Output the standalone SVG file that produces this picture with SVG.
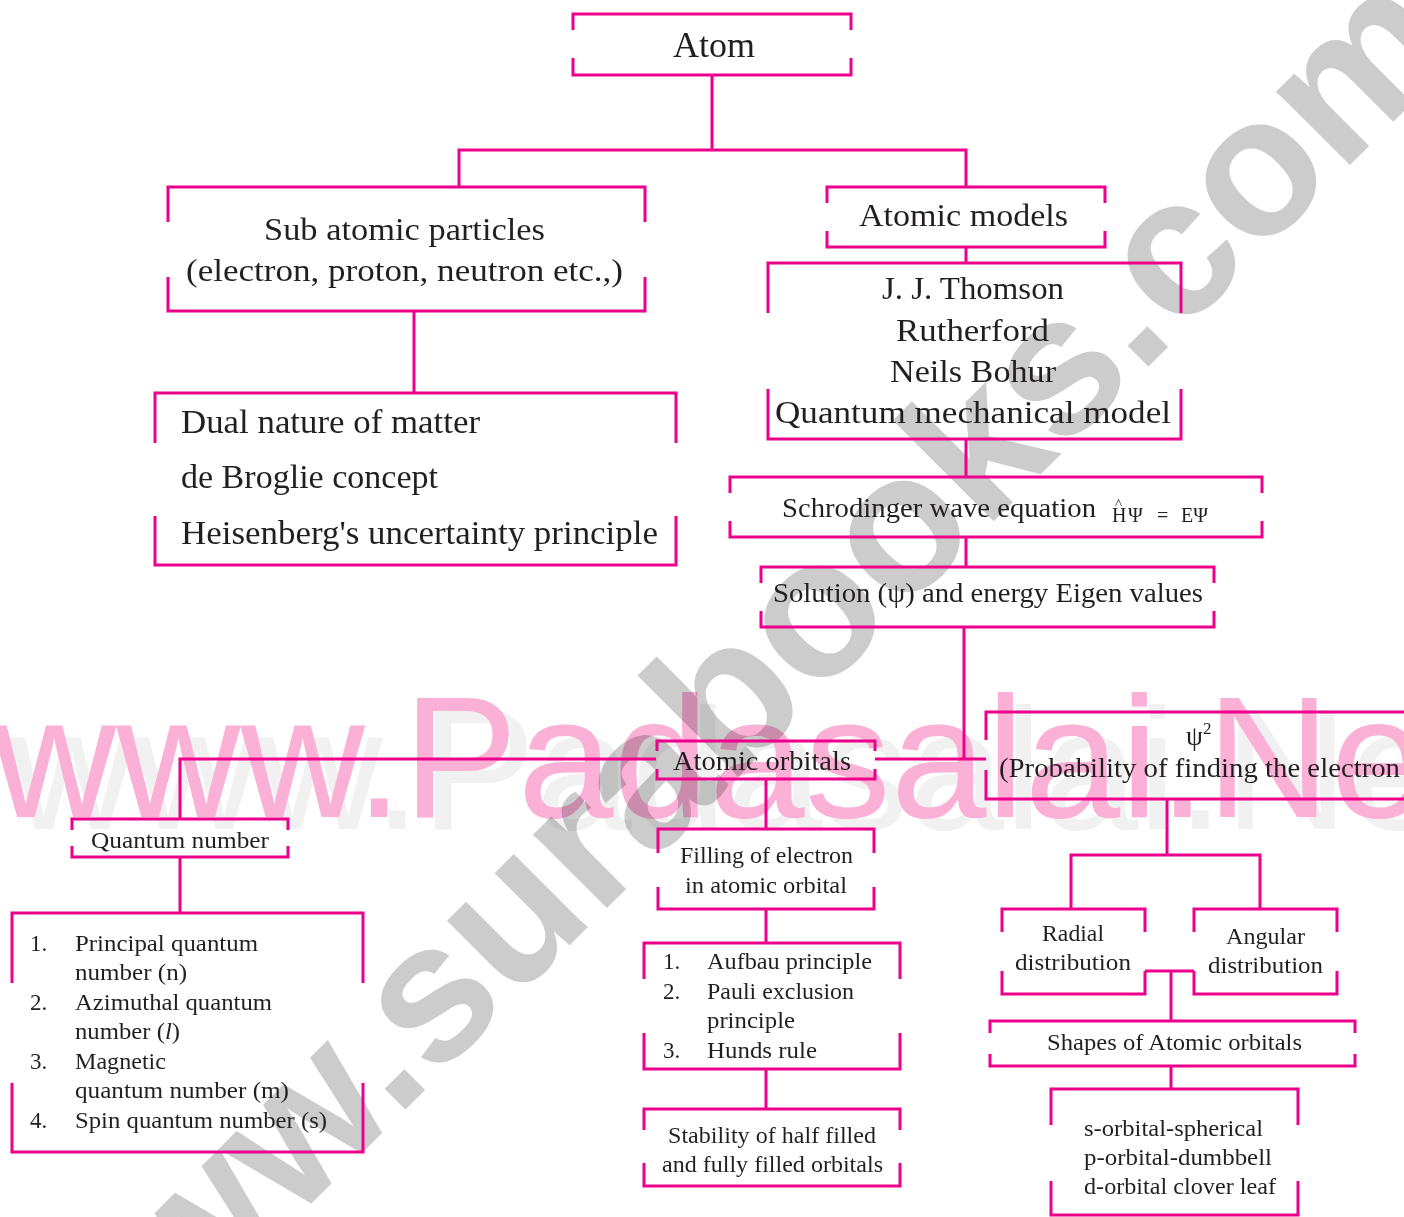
<svg xmlns="http://www.w3.org/2000/svg" width="1404" height="1217" viewBox="0 0 1404 1217">
<style>
.box{fill:none;stroke:#ec008c;stroke-width:3}
.con{fill:none;stroke:#ec008c;stroke-width:3}
text{font-family:"Liberation Serif","Times New Roman",serif;fill:#231f20}
.f35{font-size:35px}.f33{font-size:33px}.f32{font-size:32px}.f27{font-size:27px}.f23{font-size:23px}
.wm{font-family:"Liberation Sans",Arial,sans-serif}
</style>
<rect width="1404" height="1217" fill="#fff"/>
<g id="watermarks">
<text class="wm" x="10" y="829" font-size="172" style="fill:#f1f1f1">www.Padasalai.Net</text>
<text class="wm" x="-8" y="817" font-size="172" style="fill:#fbb0d6">www.Padasalai.Net</text>
<text class="wm" transform="translate(76,1439) rotate(-45)" font-size="197" font-weight="bold" style="fill:#cccccc;mix-blend-mode:multiply">www.surabooks.com</text>
</g>
<g id="connectors">
<path class="con" d="M712,75V150M459,187V150H966V187"/>
<path class="con" d="M414,311V393"/>
<path class="con" d="M966,247V263"/>
<path class="con" d="M966,439V477"/>
<path class="con" d="M966,537V567"/>
<path class="con" d="M964,627V759"/>
<path class="con" d="M180,818V759H656"/>
<path class="con" d="M875,759H986"/>
<path class="con" d="M180,857V913"/>
<path class="con" d="M766,779V829"/>
<path class="con" d="M766,909V943"/>
<path class="con" d="M766,1069V1109"/>
<path class="con" d="M1167,799V855M1071,909V855H1260V909"/>
<path class="con" d="M1145,971H1194M1171,971V1021"/>
<path class="con" d="M1171,1066V1089"/>
</g>
<g id="atom">
<path class="box" d="M573,30V14H851V30M573,58V75H851V58"/>
<text class="f35" x="673" y="57" textLength="82" lengthAdjust="spacingAndGlyphs">Atom</text>
</g>
<g id="subatomic">
<path class="box" d="M168,222V187H645V222M168,277V311H645V277"/>
<text class="f32" x="264" y="240" textLength="281" lengthAdjust="spacingAndGlyphs">Sub atomic particles</text>
<text class="f32" x="186" y="281" textLength="437" lengthAdjust="spacingAndGlyphs">(electron, proton, neutron etc.,)</text>
</g>
<g id="dualnature">
<path class="box" d="M155,443V393H676V443M155,516V565H676V516"/>
<text class="f33" x="181" y="433" textLength="299" lengthAdjust="spacingAndGlyphs">Dual nature of matter</text>
<text class="f33" x="181" y="488" textLength="257" lengthAdjust="spacingAndGlyphs">de Broglie concept</text>
<text class="f33" x="181" y="544" textLength="477" lengthAdjust="spacingAndGlyphs">Heisenberg's uncertainty principle</text>
</g>
<g id="atomicmodels">
<path class="box" d="M827,203V187H1105V203M827,231V247H1105V231"/>
<text class="f32" x="859" y="226" textLength="209" lengthAdjust="spacingAndGlyphs">Atomic models</text>
</g>
<g id="models">
<path class="box" d="M768,313V263H1181V313M768,389V439H1181V389"/>
<text class="f32" x="882" y="299" textLength="182" lengthAdjust="spacingAndGlyphs">J. J. Thomson</text>
<text class="f32" x="896" y="341" textLength="153" lengthAdjust="spacingAndGlyphs">Rutherford</text>
<text class="f32" x="890" y="382" textLength="166" lengthAdjust="spacingAndGlyphs">Neils Bohur</text>
<text class="f32" x="775" y="423" textLength="396" lengthAdjust="spacingAndGlyphs">Quantum mechanical model</text>
</g>
<g id="schrodinger">
<path class="box" d="M730,493V477H1262V493M730,521V537H1262V521"/>
<text class="f27" x="782" y="517" textLength="314" lengthAdjust="spacingAndGlyphs">Schrodinger wave equation</text>
<text font-size="20" y="522"><tspan x="1112">H</tspan><tspan x="1128">Ψ</tspan><tspan x="1157">=</tspan><tspan x="1181">EΨ</tspan></text>
<text font-size="15" x="1115" y="509">^</text>
</g>
<g id="solution">
<path class="box" d="M761,583V567H1214V583M761,611V627H1214V611"/>
<text class="f27" x="773" y="602" textLength="430" lengthAdjust="spacingAndGlyphs">Solution (ψ) and energy Eigen values</text>
</g>
<g id="atomicorbitals">
<path class="box" d="M657,751V741H875V751M657,769V779H875V769"/>
<text class="f27" x="673" y="770" textLength="178" lengthAdjust="spacingAndGlyphs">Atomic orbitals</text>
</g>
<g id="probability">
<path class="box" d="M986,740V712H1420M986,770V799H1420"/>
<text class="f27" x="1186" y="745">ψ<tspan font-size="17" dy="-11">2</tspan></text>
<text class="f27" x="999" y="777" textLength="401" lengthAdjust="spacingAndGlyphs">(Probability of finding the electron</text>
</g>
<g id="quantumnumber">
<path class="box" d="M72,830V819H288V830M72,846V857H288V846"/>
<text class="f23" x="91" y="848" textLength="178" lengthAdjust="spacingAndGlyphs">Quantum number</text>
</g>
<g id="quantumlist">
<path class="box" d="M12,983V913H363V983M12,1083V1152H363V1083"/>
<g class="f23">
<text x="30" y="951">1.</text><text x="75" y="951" textLength="183" lengthAdjust="spacingAndGlyphs">Principal quantum</text>
<text x="75" y="980" textLength="112" lengthAdjust="spacingAndGlyphs">number (n)</text>
<text x="30" y="1010">2.</text><text x="75" y="1010" textLength="197" lengthAdjust="spacingAndGlyphs">Azimuthal quantum</text>
<text x="75" y="1039" textLength="105" lengthAdjust="spacingAndGlyphs">number (<tspan font-style="italic">l</tspan>)</text>
<text x="30" y="1069">3.</text><text x="75" y="1069" textLength="91" lengthAdjust="spacingAndGlyphs">Magnetic</text>
<text x="75" y="1098" textLength="214" lengthAdjust="spacingAndGlyphs">quantum number (m)</text>
<text x="30" y="1128">4.</text><text x="75" y="1128" textLength="252" lengthAdjust="spacingAndGlyphs">Spin quantum number (s)</text>
</g>
</g>
<g id="filling">
<path class="box" d="M658,853V829H874V853M658,887V909H874V887"/>
<text class="f23" x="680" y="863" textLength="173" lengthAdjust="spacingAndGlyphs">Filling of electron</text>
<text class="f23" x="685" y="893" textLength="162" lengthAdjust="spacingAndGlyphs">in atomic orbital</text>
</g>
<g id="rules">
<path class="box" d="M644,979V943H900V979M644,1033V1069H900V1033"/>
<g class="f23">
<text x="663" y="969">1.</text><text x="707" y="969" textLength="165" lengthAdjust="spacingAndGlyphs">Aufbau principle</text>
<text x="663" y="999">2.</text><text x="707" y="999" textLength="147" lengthAdjust="spacingAndGlyphs">Pauli exclusion</text>
<text x="707" y="1028" textLength="88" lengthAdjust="spacingAndGlyphs">principle</text>
<text x="663" y="1058">3.</text><text x="707" y="1058" textLength="110" lengthAdjust="spacingAndGlyphs">Hunds rule</text>
</g>
</g>
<g id="stability">
<path class="box" d="M644,1130V1109H900V1130M644,1163V1186H900V1163"/>
<text class="f23" x="668" y="1143" textLength="208" lengthAdjust="spacingAndGlyphs">Stability of  half filled</text>
<text class="f23" x="662" y="1172" textLength="221" lengthAdjust="spacingAndGlyphs">and fully filled orbitals</text>
</g>
<g id="radial">
<path class="box" d="M1002,932V909H1145V932M1002,971V994H1145V971"/>
<text class="f23" x="1042" y="941" textLength="62" lengthAdjust="spacingAndGlyphs">Radial</text>
<text class="f23" x="1015" y="970" textLength="116" lengthAdjust="spacingAndGlyphs">distribution</text>
</g>
<g id="angular">
<path class="box" d="M1194,932V909H1337V932M1194,971V994H1337V971"/>
<text class="f23" x="1226" y="944" textLength="79" lengthAdjust="spacingAndGlyphs">Angular</text>
<text class="f23" x="1208" y="973" textLength="115" lengthAdjust="spacingAndGlyphs">distribution</text>
</g>
<g id="shapes">
<path class="box" d="M990,1033V1021H1355V1033M990,1054V1066H1355V1054"/>
<text class="f23" x="1047" y="1050" textLength="255" lengthAdjust="spacingAndGlyphs">Shapes of  Atomic orbitals</text>
</g>
<g id="orbitalshapes">
<path class="box" d="M1051,1125V1089H1298V1125M1051,1181V1215H1298V1181"/>
<text class="f23" x="1084" y="1136" textLength="179" lengthAdjust="spacingAndGlyphs">s-orbital-spherical</text>
<text class="f23" x="1084" y="1165" textLength="188" lengthAdjust="spacingAndGlyphs">p-orbital-dumbbell</text>
<text class="f23" x="1084" y="1194" textLength="192" lengthAdjust="spacingAndGlyphs">d-orbital clover leaf</text>
</g>
</svg>
